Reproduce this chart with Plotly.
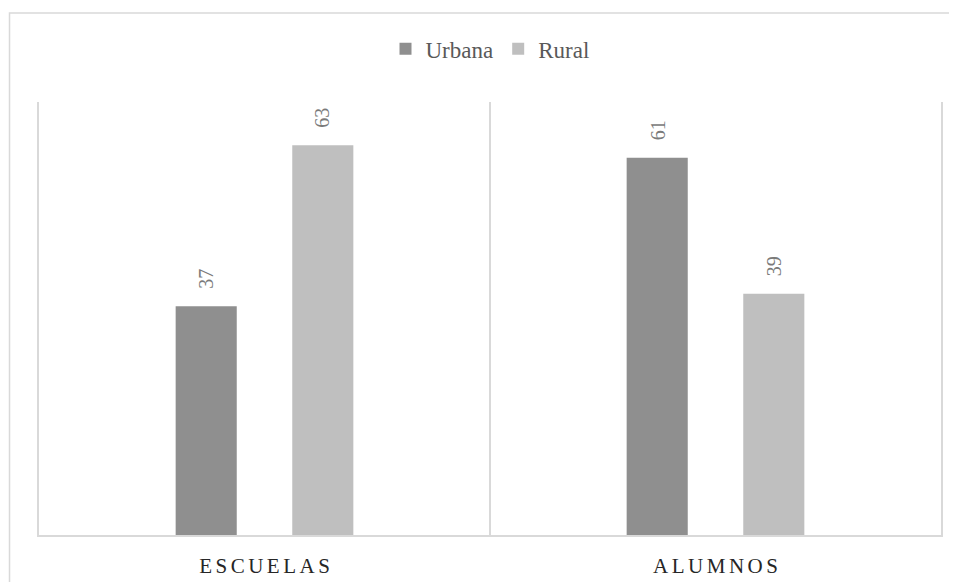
import plotly.graph_objects as go

categories = ["ESCUELAS", "ALUMNOS"]
tick_labels = ["E\u2006S\u2006C\u2006U\u2006E\u2006L\u2006A\u2006S", "A\u2006L\u2006U\u2006M\u2006N\u2006O\u2006S"]
series_names = ["Urbana", "Rural"]
urbana = [37, 61]
rural = [63, 39]

colors = ["#8f8f8f", "#bfbfbf"]
FONT = "Liberation Serif, Times New Roman, serif"

fig = go.Figure()
for name, vals, col in zip(series_names, [urbana, rural], colors):
    fig.add_trace(go.Bar(
        name=name, x=categories, y=vals, marker=dict(color=col, line=dict(width=0)),
    ))

# value labels (rotated) above each bar
for i, vals in enumerate([urbana, rural]):
    shift = -58 if i == 0 else 58
    for c, v in zip(categories, vals):
        fig.add_annotation(
            x=c, y=v, xref="x", yref="y", text=str(v), showarrow=False,
            textangle=-90, yanchor="bottom", xanchor="center",
            xshift=shift, yshift=15,
            font=dict(family=FONT, size=20, color="#7a7a7a"),
        )

# outer chart border
fig.add_shape(type="rect", xref="paper", yref="paper",
              x0=-0.0327, x1=1.2, y0=-0.3, y1=1.2055,
              line=dict(color="#d9d9d9", width=1.5), fillcolor="rgba(0,0,0,0)", layer="below")

fig.update_layout(
    width=957, height=582,
    margin=dict(l=31, r=24, t=94, b=55, autoexpand=False),
    paper_bgcolor="white", plot_bgcolor="white",
    barmode="group", bargap=0.483, bargroupgap=0.476,
    font=dict(family=FONT, color="#595959"),
    showlegend=True,
    legend=dict(orientation="h", x=0.5, xanchor="center", yref="container", y=0.93, yanchor="middle",
                font=dict(family=FONT, size=23, color="#595959"),
                itemwidth=30, traceorder="normal"),
    xaxis=dict(
        type="category", range=[-0.5, 1.5], automargin=False,
        tickmode="array", tickvals=categories, ticktext=tick_labels,
        tickson="boundaries", ticks="", showgrid=True, gridcolor="#d9d9d9", gridwidth=1.5,
        showline=True, linecolor="#d9d9d9", linewidth=1.5,
        tickfont=dict(family=FONT, size=21, color="#262626"),
        ticklabelstandoff=11,
    ),
    yaxis=dict(range=[0, 70], showticklabels=False, ticks="", showgrid=False, zeroline=False,
               automargin=False,
               showline=True, mirror=True, linecolor="#d9d9d9", linewidth=1.5, fixedrange=True),
)

fig.write_html("out.html")
